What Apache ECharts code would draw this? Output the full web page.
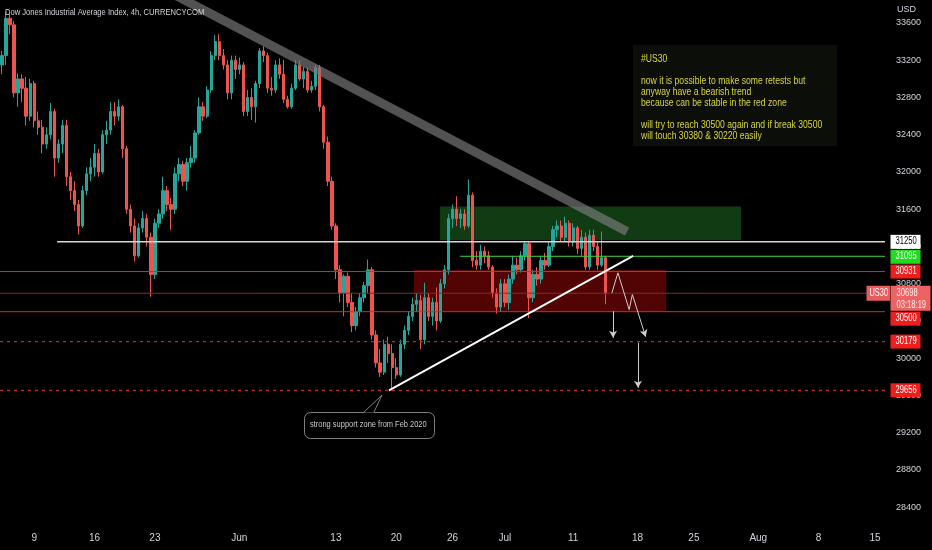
<!DOCTYPE html>
<html>
<head>
<meta charset="utf-8">
<style>
  html, body { margin: 0; padding: 0; background: #000; }
  #chart { width: 932px; height: 550px; }
</style>
<script src="https://cdn.jsdelivr.net/npm/echarts@6/dist/echarts.min.js"></script>
</head>
<body>
<div id="chart"></div>
<script>
var FONT = "'Liberation Sans', Arial, sans-serif";

// time slots (8h each, weekends left out) and the date labels on them
var SLOTS = 220;
var tickIdx = [8, 23, 38, 59, 83, 98, 112, 125, 142, 158, 172, 188, 203, 217];
var tickText = ['9', '16', '23', 'Jun', '13', '20', '26', 'Jul', '11', '18', '25', 'Aug', '8', '15'];

// [open, close, low, high]
var candles = [
  [33150, 33250, 33050, 33300], [33250, 33650, 33150, 33720], [33650, 33580, 33480, 33700], [33580, 32850, 32800, 33620],
  [32850, 33000, 32700, 33060], [33000, 32900, 32750, 33050], [32900, 32600, 32500, 33020], [32600, 32950, 32550, 33000],
  [32950, 32550, 32480, 32980], [32550, 32480, 32400, 32650], [32480, 32300, 32200, 32560], [32300, 32400, 32250, 32480],
  [32400, 32650, 32350, 32740], [32650, 32150, 31950, 32680], [32150, 32300, 32100, 32350], [32300, 32500, 32200, 32560],
  [32500, 31950, 31850, 32560], [31950, 31800, 31700, 32000], [31800, 31650, 31580, 31900], [31650, 31420, 31330, 31700],
  [31420, 31800, 31400, 31850], [31800, 31980, 31750, 32050], [31980, 32050, 31900, 32150], [32050, 32200, 31950, 32300],
  [32200, 32000, 31950, 32250], [32000, 32400, 31980, 32450], [32400, 32450, 32300, 32550], [32450, 32650, 32400, 32750],
  [32650, 32600, 32500, 32750], [32600, 32700, 32550, 32780], [32700, 32250, 32150, 32720], [32250, 31600, 31550, 32280],
  [31600, 31420, 31350, 31650], [31420, 31100, 31040, 31500], [31100, 31400, 31080, 31450], [31400, 31500, 31350, 31580],
  [31500, 31300, 31200, 31550], [31300, 30900, 30660, 31350], [30900, 31450, 30850, 31500], [31450, 31550, 31400, 31600],
  [31550, 31800, 31500, 31950], [31800, 31650, 31580, 31850], [31650, 31600, 31380, 31720], [31600, 31980, 31550, 32050],
  [31980, 32080, 31900, 32150], [32080, 31900, 31850, 32120], [31900, 32100, 31800, 32150], [32100, 32150, 32050, 32280],
  [32150, 32420, 32100, 32450], [32420, 32700, 32400, 32800], [32700, 32600, 32550, 32750], [32600, 32880, 32580, 32920],
  [32880, 33250, 32850, 33300], [33250, 33400, 33200, 33470], [33400, 33250, 33200, 33480], [33250, 33150, 33100, 33320],
  [33150, 32850, 32780, 33200], [32850, 33200, 32780, 33250], [33200, 33100, 33000, 33250], [33100, 33150, 33050, 33230],
  [33150, 32650, 32600, 33180], [32650, 32800, 32600, 32880], [32800, 32700, 32560, 32900], [32700, 32950, 32530, 32980],
  [32950, 33300, 32900, 33330], [33300, 33250, 33180, 33350], [33250, 32900, 32850, 33280], [32900, 32880, 32820, 33020],
  [32880, 33150, 32850, 33200], [33150, 33050, 33000, 33220], [33050, 32780, 32740, 33200], [32780, 32700, 32680, 32820],
  [32700, 32900, 32680, 32950], [32900, 33150, 32880, 33200], [33150, 33000, 32980, 33200], [33000, 33080, 32900, 33130],
  [33080, 32880, 32850, 33120], [32880, 32920, 32850, 32980], [32920, 33120, 32880, 33150], [33120, 32700, 32650, 33150],
  [32700, 32320, 32250, 32720], [32320, 31900, 31850, 32380], [31900, 31420, 31380, 31950], [31420, 30950, 30850, 31450],
  [30950, 30700, 30600, 31000], [30700, 30880, 30450, 30900], [30880, 30600, 30550, 30920], [30600, 30350, 30280, 30700],
  [30350, 30500, 30300, 30550], [30500, 30650, 30450, 30700], [30650, 30780, 30600, 30820], [30780, 30950, 30700, 31060],
  [30950, 30250, 30200, 30980], [30250, 29950, 29900, 30300], [29950, 29850, 29800, 30100], [29850, 30150, 29820, 30200],
  [30150, 30050, 29950, 30230], [30050, 29900, 29656, 30150], [29900, 29820, 29780, 30000], [29820, 30150, 29800, 30200],
  [30150, 30300, 30100, 30350], [30300, 30450, 30250, 30500], [30450, 30580, 30400, 30650], [30580, 30620, 30500, 30700],
  [30620, 30200, 30100, 30680], [30200, 30650, 30150, 30810], [30650, 30450, 30400, 30700], [30450, 30600, 30350, 30650],
  [30600, 30400, 30300, 30760], [30400, 30800, 30380, 30850], [30800, 30950, 30750, 31000], [30950, 31500, 30900, 31550],
  [31500, 31600, 31400, 31650], [31600, 31500, 31420, 31740], [31500, 31550, 31400, 31600], [31550, 31420, 31380, 31600],
  [31420, 31750, 31400, 31920], [31750, 31050, 30980, 31780], [31050, 31000, 30950, 31150], [31000, 31150, 30950, 31220],
  [31150, 31100, 31020, 31200], [31100, 30980, 30950, 31150], [30980, 30700, 30650, 31000], [30700, 30550, 30480, 30750],
  [30550, 30800, 30500, 30850], [30800, 30600, 30550, 30850], [30600, 30850, 30520, 30900], [30850, 31000, 30800, 31100],
  [31000, 30950, 30900, 31080], [30950, 31100, 30920, 31150], [31100, 31230, 31050, 31260], [31230, 30650, 30430, 31260],
  [30650, 30900, 30600, 30950], [30900, 30850, 30780, 30980], [30850, 31050, 30800, 31100], [31050, 31000, 30950, 31130],
  [31000, 31200, 30980, 31250], [31200, 31380, 31150, 31420], [31380, 31420, 31300, 31480], [31420, 31300, 31250, 31480],
  [31300, 31450, 31250, 31520], [31450, 31250, 31200, 31480], [31250, 31400, 31200, 31450], [31400, 31180, 31120, 31420],
  [31180, 31300, 31100, 31380], [31300, 30980, 30950, 31350], [30980, 31320, 30950, 31380], [31320, 31200, 31150, 31380],
  [31200, 31000, 30950, 31250], [31000, 31080, 30980, 31360], [31080, 30698, 30580, 31100]
];

// price levels drawn across the chart
var lastPrice = 30698;
var countdown = '03:18:19';
var whiteLevel = 31250;
var greenLevel = 31095;
var redLevels = [30931, 30500];
var dashLevels = [30179, 29656];

// drawings: [slot, price]
var whiteStart = 13.7;
var greenStart = 113.9;
var greenZone = [[108.9, 31630], [183.7, 31270]];
var redZone = [[102.4, 30950], [165.1, 30500]];
var supportLine = [[96.2, 29656], [156.9, 31100]];
var resistBand = [[41.9, 33925], [155.4, 31360]];
var zigzag = [[151.6, 30700], [153.1, 30917], [155.9, 30523], [156.7, 30684]];
var zigzagEnd = [156.7, 30684, 160.0, 30231];
var arrowA = [151.9, 30505, 151.9, 30220];
var arrowB = [158.1, 30166, 158.1, 29684];

var noteLines = [
  '#US30',
  '',
  'now it is possible to make some retests but',
  'anyway have a bearish trend',
  'because can be stable in the red zone',
  '',
  'will try to reach 30500 again and if break 30500',
  'will touch 30380 & 30220 easily'
];
var supportNote = 'strong support zone from Feb 2020';
var titleText = 'Dow Jones Industrial Average Index, 4h, CURRENCYCOM';

var categories = [];
for (var i = 0; i < SLOTS; i++) categories.push(i);

function hLine(name, start, value, style) {
  return {
    name: name, type: 'line', xAxisIndex: 1, silent: true, z: 4,
    data: [[start, value], [SLOTS - 0.5, value]],
    showSymbol: false, lineStyle: style
  };
}

var levelSeries = [
  hLine('white', whiteStart, whiteLevel, { color: '#d8d8d8', width: 1.5 }),
  hLine('green', greenStart, greenLevel, { color: '#3fd83f', width: 1 }),
  hLine('last', -0.5, lastPrice, { color: '#8a2a2a', width: 1 })
];
redLevels.forEach(function (v, k) {
  levelSeries.push(hLine('red' + k, -0.5, v, { color: '#dc2828', width: 1 }));
});
dashLevels.forEach(function (v, k) {
  levelSeries.push(hLine('dash' + k, -0.5, v, { color: '#c42626', width: 1.2, type: [3, 4] }));
});

var chart = echarts.init(document.getElementById('chart'));

var option = {
  backgroundColor: '#000000',
  animation: false,
  grid: { left: 0, right: 47, top: 0, bottom: 5.5 },
  xAxis: [{
    type: 'category',
    data: categories,
    boundaryGap: true,
    axisLine: { show: false },
    axisTick: { show: false },
    splitLine: { show: false },
    axisLabel: {
      inside: true, margin: 1,
      color: '#d1d4dc', fontSize: 10, fontFamily: FONT,
      interval: function (index) { return tickIdx.indexOf(index) >= 0; },
      formatter: function (value, index) {
        var k = tickIdx.indexOf(index);
        return k >= 0 ? tickText[k] : '';
      }
    }
  }, {
    type: 'value', min: -0.5, max: SLOTS - 0.5, show: false
  }],
  yAxis: {
    type: 'value',
    position: 'right',
    min: 28000, max: 33847, interval: 400,
    axisLine: { show: false },
    axisTick: { show: false },
    splitLine: { show: false },
    axisLabel: {
      color: '#d1d4dc', fontSize: 9, fontFamily: FONT, margin: 11,
      showMinLabel: false, showMaxLabel: false,
      formatter: function (v) { return String(v); }
    }
  },
  series: [{
    type: 'candlestick',
    data: candles,
    barWidth: 2.8,
    itemStyle: {
      color: '#26a69a', color0: '#ef5350',
      borderColor: '#26a69a', borderColor0: '#ef5350', borderWidth: 1
    },
    z: 2
  }, {
    name: 'zones',
    type: 'line', xAxisIndex: 1, data: [], z: 3,
    markArea: {
      silent: true,
      data: [
        [{ coord: greenZone[0], itemStyle: { color: 'rgba(40,140,45,0.42)' } }, { coord: greenZone[1] }],
        [{ coord: redZone[0], itemStyle: { color: 'rgba(150,8,8,0.55)' } }, { coord: redZone[1] }]
      ]
    }
  }, {
    name: 'band',
    type: 'line', xAxisIndex: 1, data: resistBand, showSymbol: false, z: 3, silent: true,
    lineStyle: { color: 'rgba(125,125,125,0.66)', width: 9, cap: 'butt' }
  }, {
    name: 'support',
    type: 'line', xAxisIndex: 1, data: supportLine, showSymbol: false, z: 5, silent: true,
    lineStyle: { color: '#ffffff', width: 2 }
  }, {
    name: 'path',
    type: 'line', xAxisIndex: 1, data: zigzag, showSymbol: false, z: 5, silent: true,
    lineStyle: { color: '#cfcfcf', width: 1 },
    markLine: {
      silent: true, symbol: ['none', 'arrow'], symbolSize: [6, 7],
      lineStyle: { color: '#cfcfcf', width: 1, type: 'solid' },
      label: { show: false },
      data: [
        [{ coord: [zigzagEnd[0], zigzagEnd[1]] }, { coord: [zigzagEnd[2], zigzagEnd[3]] }],
        [{ coord: [arrowA[0], arrowA[1]] }, { coord: [arrowA[2], arrowA[3]] }],
        [{ coord: [arrowB[0], arrowB[1]] }, { coord: [arrowB[2], arrowB[3]] }]
      ]
    }
  }].concat(levelSeries)
};

chart.setOption(option);

// price badges on the axis, placed from the axis scale
function py(v) { return chart.convertToPixel({ yAxisIndex: 0 }, v); }
function badge(value, shift, bg, fg) {
  var y = py(value) + shift;
  return [
    { type: 'rect', left: 890.5, top: y - 7, z: 12, shape: { width: 30, height: 14 }, style: { fill: bg } },
    { type: 'text', left: 895.5, top: y - 5.2, z: 13, scaleX: 0.76,
      style: { text: String(value), fill: fg, font: '10px ' + FONT } }
  ];
}

var yLast = py(lastPrice);
var overlays = [
  { type: 'text', left: 5, top: 7, z: 10, scaleX: 0.8,
    style: { text: titleText, fill: '#cfd2d8', font: '9.5px ' + FONT } },
  { type: 'text', left: 897, top: 5, z: 10,
    style: { text: 'USD', fill: '#d1d4dc', font: '9px ' + FONT } },
  { type: 'rect', left: 633, top: 45, z: 8,
    shape: { width: 204, height: 101 }, style: { fill: '#0b0e09' } },
  { type: 'text', left: 641, top: 53.5, z: 9, scaleX: 0.83,
    style: { text: noteLines.join('\n'), fill: '#dad43f', font: '10.4px ' + FONT, lineHeight: 11 } },
  { type: 'rect', left: 304, top: 412, z: 8,
    shape: { width: 130, height: 26, r: 6 },
    style: { fill: '#000000', stroke: '#808080', lineWidth: 1 } },
  { type: 'polygon', z: 9,
    shape: { points: [[364, 412.6], [382, 395], [374, 412.6]] },
    style: { fill: '#000000' } },
  { type: 'polyline', z: 9,
    shape: { points: [[364, 412], [382, 395], [374, 412]] },
    style: { fill: null, stroke: '#808080', lineWidth: 1 } },
  { type: 'text', left: 310, top: 420, z: 10, scaleX: 0.83,
    style: { text: supportNote, fill: '#c9c9c9', font: '9px ' + FONT } }
];
overlays = overlays
  .concat(badge(whiteLevel, 0, '#ffffff', '#000000'))
  .concat(badge(greenLevel, 0.5, '#1fdc1f', '#eaffea'))
  .concat(badge(redLevels[0], 0, '#f01d1d', '#ffffff'))
  .concat(badge(redLevels[1], 7, '#f01d1d', '#ffffff'))
  .concat(badge(dashLevels[0], 0, '#f01d1d', '#ffffff'))
  .concat(badge(dashLevels[1], 0, '#f01d1d', '#ffffff'))
  .concat([
    // last price box with countdown
    { type: 'rect', left: 890.5, top: yLast - 7.5, z: 12,
      shape: { width: 40, height: 25 }, style: { fill: '#ef6262' } },
    { type: 'text', left: 896.5, top: yLast - 5.5, z: 13, scaleX: 0.76,
      style: { text: lastPrice + '\n' + countdown, fill: '#fff0f0', font: '10px ' + FONT, lineHeight: 12 } },
    { type: 'rect', left: 866.5, top: yLast - 7.5, z: 12,
      shape: { width: 23.5, height: 15 }, style: { fill: '#ea5c5c' } },
    { type: 'text', left: 869.5, top: yLast - 5, z: 13, scaleX: 0.74,
      style: { text: 'US30', fill: '#ffffff', font: '10px ' + FONT } }
  ]);

chart.setOption({ graphic: overlays });
</script>
</body>
</html>
